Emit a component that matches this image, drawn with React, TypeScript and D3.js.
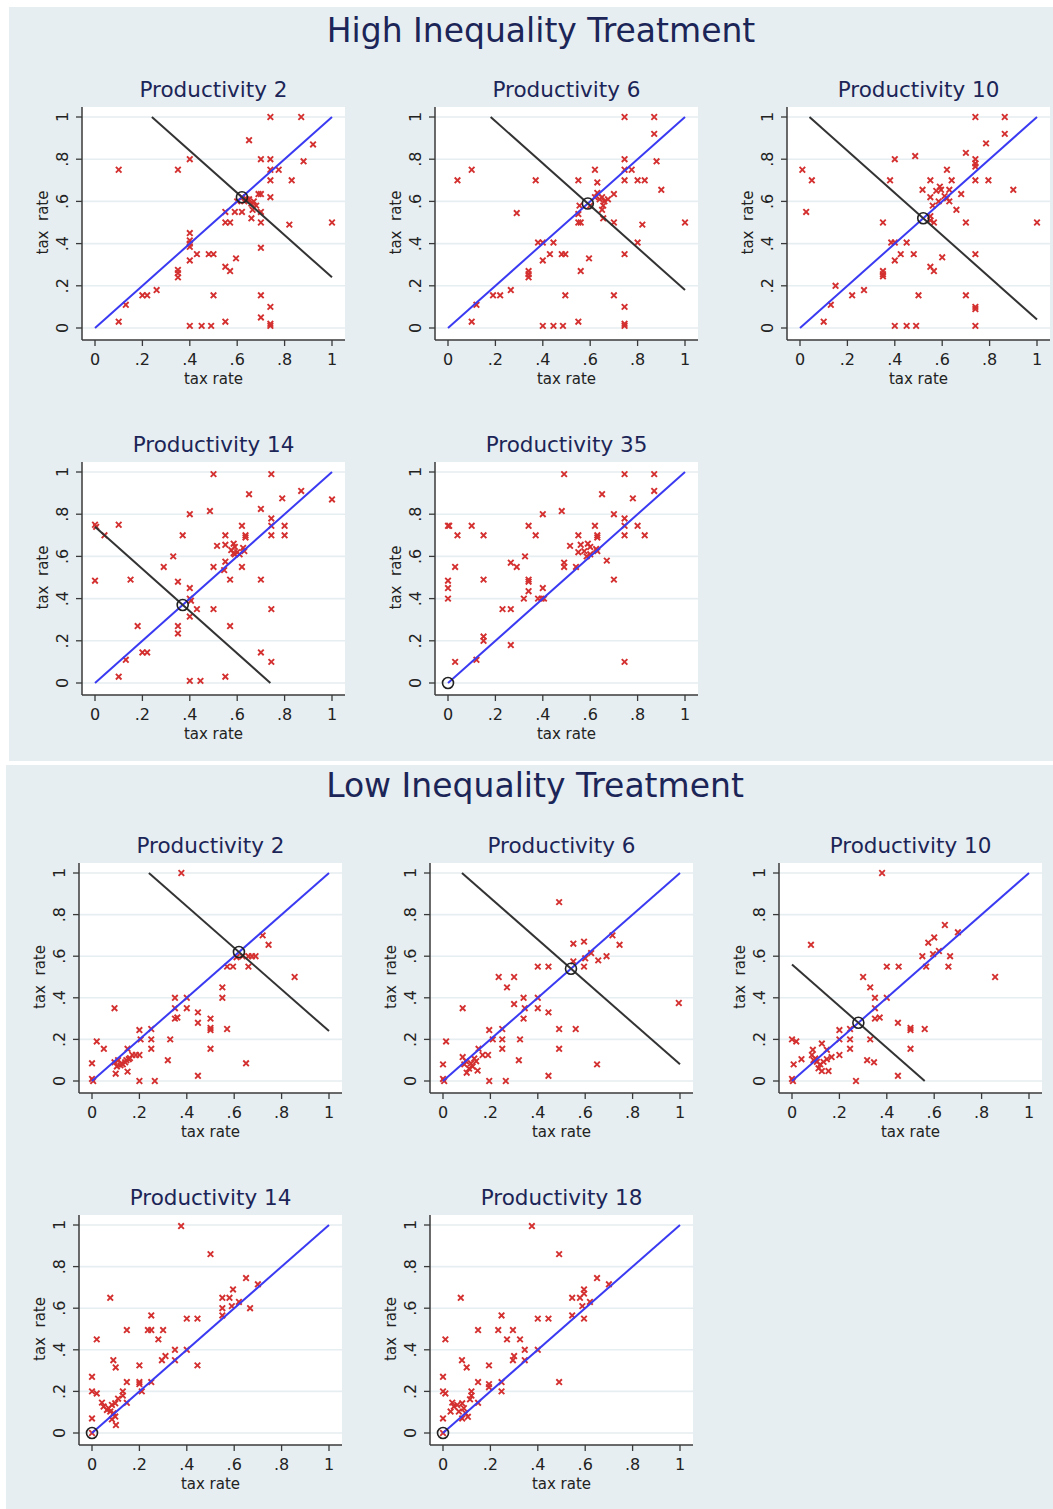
import React from 'react';
import * as d3 from 'd3';

// values
const tickValues = [0, 0.2, 0.4, 0.6, 0.8, 1];
const tickLabels = ['0', '.2', '.4', '.6', '.8', '1'];

const highProductivity = [2, 6, 10, 14, 35];
const lowProductivity = [2, 6, 10, 14, 18];
// equilibrium tax rate (circle); black line is x + y = 2 * eq
const highEquilibrium = [0.62, 0.59, 0.52, 0.37, 0];
const lowEquilibrium = [0.62, 0.54, 0.28, 0, 0];

const highP2 = [
  [.74, 1], [.87, 1], [.65, .89], [.92, .87], [.10, .75], [.35, .75], [.40, .80], [.70, .80], [.74, .80], [.88, .79],
  [.74, .75], [.775, .75], [.74, .70], [.83, .70], [.69, .635], [.70, .635], [.74, .62],
  [.62, .62], [.64, .61], [.65, .61], [.67, .60], [.66, .59], [.68, .58], [.63, .60], [.60, .60],
  [.59, .55], [.62, .55], [.66, .52], [.665, .56], [.70, .55], [.55, .55], [.55, .50], [.57, .50], [.70, .50],
  [.82, .49], [1.0, .50], [.40, .45], [.40, .415], [.40, .40], [.40, .385], [.70, .38], [.43, .35], [.48, .35],
  [.50, .35], [.40, .32], [.595, .33], [.55, .29], [.57, .27], [.35, .275], [.35, .26], [.35, .24], [.26, .18],
  [.20, .155], [.22, .155], [.50, .155], [.70, .155], [.13, .11], [.74, .10], [.10, .03], [.70, .05], [.55, .03],
  [.40, .01], [.45, .01], [.49, .01], [.74, .01], [.74, .02],
];

const highP6 = [
  [.745, 1], [.87, 1], [.87, .92], [.745, .80], [.88, .79], [.10, .75], [.62, .75], [.745, .75], [.775, .75],
  [.04, .70], [.37, .70], [.55, .70], [.63, .69], [.745, .70], [.80, .70], [.83, .70], [.90, .655], [.70, .635],
  [.63, .64], [.65, .62], [.64, .61], [.66, .60], [.675, .61], [.655, .58], [.65, .56], [.62, .62], [.60, .58],
  [.555, .58], [.29, .545], [.55, .54], [.55, .50], [.56, .50], [.655, .52], [.70, .50], [.82, .49], [1.0, .50],
  [.38, .405], [.40, .405], [.445, .405], [.80, .405], [.43, .35], [.48, .35], [.495, .35], [.745, .35],
  [.595, .33], [.40, .32], [.56, .27], [.34, .27], [.34, .255], [.34, .24], [.265, .18], [.19, .155], [.22, .155],
  [.495, .155], [.70, .155], [.12, .11], [.745, .10], [.10, .03], [.55, .03], [.40, .01], [.445, .01], [.485, .01],
  [.745, .01], [.745, .02],
];

const highP10 = [
  [.74, 1], [.864, 1], [.864, .92], [.785, .875], [.70, .83], [.486, .815], [.40, .80], [.74, .80], [.74, .78],
  [.74, .765], [.01, .75], [.62, .75], [.05, .70], [.38, .70], [.55, .70], [.64, .70], [.74, .70], [.795, .70],
  [.90, .655], [.517, .655], [.59, .67], [.595, .655], [.575, .65], [.63, .655], [.68, .635], [.55, .62],
  [.61, .625], [.62, .615], [.585, .60], [.63, .60], [.56, .58], [.66, .56], [.026, .55], [.55, .53], [.55, .51],
  [.35, .50], [.565, .50], [.70, .50], [1.0, .50], [.385, .405], [.40, .405], [.45, .405], [.425, .35], [.48, .35],
  [.74, .35], [.60, .335], [.40, .32], [.55, .29], [.565, .27], [.35, .27], [.35, .255], [.35, .245], [.15, .20],
  [.27, .18], [.22, .155], [.50, .155], [.70, .155], [.13, .11], [.74, .10], [.74, .09], [.10, .03], [.40, .01],
  [.45, .01], [.49, .01], [.74, .01],
];

const highP14 = [
  [.50, .99], [.744, .99], [.87, .91], [.65, .895], [.79, .875], [1.0, .87], [.70, .825], [.485, .815], [.40, .80],
  [.744, .78], [0, .75], [.005, .74], [.10, .75], [.62, .745], [.744, .745], [.80, .745], [.04, .70], [.37, .70],
  [.55, .70], [.635, .70], [.635, .69], [.744, .70], [.80, .70], [.515, .65], [.55, .655], [.585, .66], [.59, .645],
  [.575, .63], [.60, .62], [.625, .64], [.59, .61], [.63, .625], [.61, .61], [.585, .615], [.33, .60], [.55, .575],
  [.29, .55], [.50, .55], [.545, .535], [.62, .55], [0, .485], [.15, .49], [.35, .48], [.57, .49], [.70, .49],
  [.40, .45], [.40, .40], [.405, .39], [.43, .35], [.50, .35], [.744, .35], [.40, .315], [.18, .27], [.35, .27],
  [.35, .235], [.57, .27], [.20, .145], [.22, .145], [.70, .145], [.13, .11], [.744, .10], [.10, .03], [.55, .03],
  [.40, .01], [.445, .01],
];

const highP35 = [
  [.49, .99], [.745, .99], [.87, .99], [.87, .91], [.65, .895], [.78, .875], [.48, .815], [.40, .80], [.70, .80],
  [.745, .78], [0, .745], [.005, .745], [.10, .745], [.34, .745], [.62, .745], [.745, .745], [.80, .745], [.04, .70],
  [.15, .70], [.37, .70], [.55, .70], [.63, .70], [.63, .69], [.745, .70], [.83, .70], [.515, .65], [.56, .655],
  [.59, .66], [.60, .645], [.55, .62], [.575, .625], [.60, .61], [.625, .635], [.63, .625], [.585, .60], [.325, .60],
  [.67, .58], [.265, .57], [.29, .55], [.49, .57], [.49, .55], [.54, .55], [.03, .55], [0, .485], [.15, .49],
  [.34, .49], [.34, .48], [.70, .49], [0, .45], [.40, .45], [.34, .435], [0, .40], [.32, .40], [.38, .40],
  [.395, .40], [.405, .40], [.23, .35], [.265, .35], [.15, .22], [.15, .20], [.265, .18], [.03, .10], [.12, .11],
  [.745, .10],
];

const lowP2 = [
  [.377, 1.0], [.72, .70], [.745, .655], [.61, .595], [.635, .60], [.66, .60], [.675, .60], [.69, .60], [.57, .55],
  [.595, .55], [.66, .55], [.855, .50], [.55, .45], [.55, .40], [.35, .40], [.40, .40], [.35, .35], [.40, .35],
  [.095, .35], [.447, .33], [.35, .30], [.36, .305], [.447, .28], [.50, .30], [.50, .255], [.50, .245], [.57, .25],
  [.20, .245], [.25, .25], [.02, .19], [.205, .20], [.25, .20], [.33, .20], [.05, .155], [.15, .155], [.25, .155],
  [.50, .155], [.17, .125], [.185, .125], [.20, .125], [.095, .09], [.11, .10], [.125, .085], [.14, .09],
  [.155, .105], [.105, .07], [.12, .075], [.13, .08], [.145, .10], [.16, .11], [.10, .035], [.15, .045], [0, .085],
  [.32, .10], [.65, .085], [0, .01], [.005, 0], [.20, 0], [.265, 0], [.447, .025],
];

const lowP6 = [
  [.49, .86], [.715, .70], [.745, .655], [.55, .66], [.595, .67], [.625, .615], [.60, .59], [.655, .58], [.69, .60],
  [.55, .575], [.595, .55], [.40, .55], [.445, .55], [.235, .50], [.30, .50], [.27, .45], [.34, .40], [.40, .40],
  [.30, .37], [.345, .35], [.40, .35], [.445, .33], [.083, .35], [.995, .375], [.34, .30], [.49, .25], [.56, .25],
  [.195, .245], [.25, .25], [.013, .19], [.21, .20], [.25, .20], [.325, .20], [.25, .155], [.49, .155], [.15, .155],
  [.167, .125], [.19, .125], [.083, .115], [.097, .095], [.118, .085], [.14, .095], [.132, .108], [.09, .08],
  [.11, .06], [.125, .07], [.146, .05], [.10, .04], [0, .08], [.32, .10], [.65, .08], [0, .01], [.005, 0],
  [.195, 0], [.265, 0], [.445, .025],
];

const lowP10 = [
  [.38, 1.0], [.645, .75], [.70, .715], [.60, .69], [.575, .665], [.62, .625], [.595, .61], [.55, .60], [.667, .60],
  [.08, .655], [.566, .55], [.66, .55], [.40, .55], [.45, .55], [.857, .50], [.30, .50], [.33, .45], [.35, .40],
  [.40, .40], [.35, .35], [.35, .30], [.37, .305], [.447, .28], [.50, .255], [.50, .245], [.56, .25], [.20, .245],
  [.245, .25], [0, .20], [.018, .19], [.126, .18], [.20, .20], [.245, .20], [.33, .20], [.088, .15], [.245, .155],
  [.50, .155], [.147, .15], [.167, .115], [.20, .125], [.04, .105], [.007, .08], [.084, .125], [.091, .10],
  [.105, .092], [.119, .08], [.133, .092], [.147, .105], [.112, .061], [.126, .048], [.154, .048], [.098, .108],
  [.317, .10], [.346, .09], [0, .01], [.004, 0], [.27, 0], [.447, .025],
];

const lowP14 = [
  [.376, .995], [.50, .86], [.65, .745], [.70, .715], [.595, .69], [.077, .65], [.55, .65], [.58, .65], [.62, .63],
  [.55, .60], [.59, .61], [.667, .60], [.55, .565], [.25, .565], [.40, .55], [.445, .55], [.147, .495], [.236, .495],
  [.25, .495], [.30, .495], [.28, .45], [.02, .45], [.35, .40], [.40, .40], [.31, .37], [.295, .35], [.35, .35],
  [.09, .35], [.10, .315], [.20, .325], [.445, .325], [0, .27], [.147, .245], [.20, .245], [.20, .235], [.25, .245],
  [0, .20], [.02, .19], [.13, .20], [.13, .18], [.21, .20], [.11, .165], [.147, .145], [.042, .146], [.049, .127],
  [.07, .119], [.084, .135], [.098, .143], [.077, .103], [.091, .095], [.063, .111], [.098, .079], [.084, .066],
  [.101, .038], [0, .07], [0, 0],
];

const lowP18 = [
  [.375, .995], [.49, .86], [.65, .745], [.70, .715], [.595, .69], [.595, .67], [.075, .65], [.545, .65],
  [.578, .65], [.62, .63], [.588, .61], [.545, .565], [.595, .55], [.247, .565], [.40, .55], [.445, .55],
  [.148, .495], [.233, .495], [.295, .495], [.27, .45], [.325, .45], [.01, .45], [.345, .40], [.40, .40], [.30, .37],
  [.295, .35], [.345, .35], [.08, .35], [.10, .315], [.194, .325], [.49, .245], [0, .27], [.148, .245], [.194, .235],
  [.194, .22], [.247, .245], [.247, .20], [0, .20], [.01, .19], [.12, .20], [.12, .18], [.148, .145], [.039, .146],
  [.046, .127], [.06, .135], [.081, .143], [.088, .119], [.067, .103], [.032, .103], [.095, .095], [.081, .07],
  [.105, .078], [.114, .162], [0, .07], [0, 0],
];

const highData = [highP2, highP6, highP10, highP14, highP35];
const lowData = [lowP2, lowP6, lowP10, lowP14, lowP18];

// layout
const W = 1053;
const H = 1509;
const FONT = "'DejaVu Sans', Verdana, sans-serif";
const SPAN = 237;
const BG = '#e6eef1';
const NAVY = '#1c2557';

const highOrigins = [[95, 328], [448, 328], [800, 328], [95, 683], [448, 683]];
const lowOrigins = [[92, 1081], [443, 1081], [792, 1081], [92, 1433], [443, 1433]];

const xMark = 'M-2.8,-2.8L2.8,2.8M-2.8,2.8L2.8,-2.8';

function Panel({ x0, y0, h, title, points, eq }) {
  const x = d3.scaleLinear().domain([0, 1]).range([x0, x0 + SPAN]);
  const y = d3.scaleLinear().domain([0, 1]).range([y0, y0 - h]);
  const left = x0 - 13;
  const right = x0 + SPAN + 13;
  const top = y0 - h - 10;
  const bottom = y0 + 12;
  const line = d3.line().x(d => x(d[0])).y(d => y(d[1]));
  const s = 2 * eq;
  const seg = eq > 0 ? [[Math.max(0, s - 1), Math.min(1, s)], [Math.min(1, s), Math.max(0, s - 1)]] : null;
  const cx = x0 + SPAN / 2;

  return (
    <g fontFamily={FONT}>
      <rect x={left} y={top} width={right - left} height={bottom - top} fill="#fff" />
      {tickValues.map(v => (
        <line key={'g' + v} x1={left} x2={right} y1={y(v)} y2={y(v)} stroke={BG} strokeWidth={1.6} />
      ))}
      {points.map((p, i) => (
        <path key={i} d={xMark} transform={`translate(${x(p[0])},${y(p[1])})`}
          stroke="#d43030" strokeWidth={1.9} fill="none" />
      ))}
      <path d={line([[0, 0], [1, 1]])} stroke="#3a3af2" strokeWidth={2} fill="none" />
      {seg && <path d={line(seg)} stroke="#333" strokeWidth={2} fill="none" />}
      <circle cx={x(eq)} cy={y(eq)} r={5.5} fill="none" stroke="#222" strokeWidth={1.6} />

      <line x1={left} x2={left} y1={top} y2={bottom} stroke="#3a3a3a" strokeWidth={1.5} />
      <line x1={left} x2={right} y1={bottom} y2={bottom} stroke="#3a3a3a" strokeWidth={1.5} />
      {tickValues.map((v, i) => (
        <g key={'y' + v}>
          <line x1={left - 6} x2={left} y1={y(v)} y2={y(v)} stroke="#3a3a3a" strokeWidth={1.3} />
          <text transform={`translate(${x0 - 27},${y(v)}) rotate(-90)`} textAnchor="middle"
            fontSize={16} fill="#222">{tickLabels[i]}</text>
        </g>
      ))}
      {tickValues.map((v, i) => (
        <g key={'x' + v}>
          <line x1={x(v)} x2={x(v)} y1={bottom} y2={bottom + 6} stroke="#3a3a3a" strokeWidth={1.3} />
          <text x={x(v)} y={y0 + 37} textAnchor="middle" fontSize={16} fill="#222">{tickLabels[i]}</text>
        </g>
      ))}
      <text transform={`translate(${x0 - 47},${y(0.5)}) rotate(-90)`} textAnchor="middle"
        fontSize={15} fill="#222" style={{ whiteSpace: 'pre' }}>tax  rate</text>
      <text x={cx} y={y0 + 56} textAnchor="middle" fontSize={15} fill="#222">tax rate</text>
      <text x={cx} y={y0 - h - 20} textAnchor="middle" fontSize={21.5} fill={NAVY}>{title}</text>
    </g>
  );
}

export default function App() {
  return (
    <svg width={W} height={H} style={{ position: 'absolute', left: 0, top: 0, background: '#fff' }}>
      <rect x={9} y={7} width={1044} height={754} fill={BG} />
      <rect x={6} y={765} width={1047} height={744} fill={BG} />
      <text x={541} y={42} textAnchor="middle" fontFamily={FONT} fontSize={33} fill={NAVY}>
        High Inequality Treatment
      </text>
      <text x={535} y={797} textAnchor="middle" fontFamily={FONT} fontSize={33} fill={NAVY}>
        Low Inequality Treatment
      </text>
      {highData.map((pts, i) => (
        <Panel key={'h' + i} x0={highOrigins[i][0]} y0={highOrigins[i][1]} h={211}
          title={`Productivity ${highProductivity[i]}`} points={pts} eq={highEquilibrium[i]} />
      ))}
      {lowData.map((pts, i) => (
        <Panel key={'l' + i} x0={lowOrigins[i][0]} y0={lowOrigins[i][1]} h={208}
          title={`Productivity ${lowProductivity[i]}`} points={pts} eq={lowEquilibrium[i]} />
      ))}
    </svg>
  );
}
